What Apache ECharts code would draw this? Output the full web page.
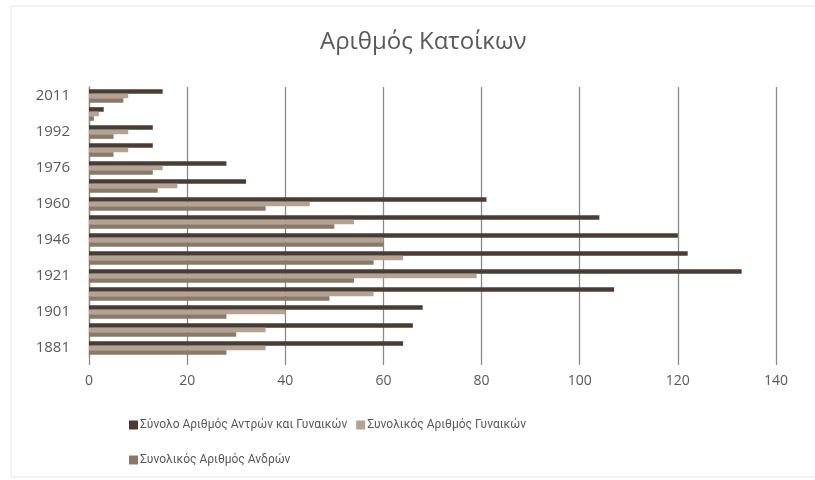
<!DOCTYPE html>
<html>
<head>
<meta charset="utf-8">
<script src="https://cdn.jsdelivr.net/npm/echarts@6/dist/echarts.min.js"></script>
<style>
html,body{margin:0;padding:0;background:#fff;}
#c{width:815px;height:480px;}
</style>
</head>
<body>
<div id="c"></div>
<script>
const title = 'Αριθμός Κατοίκων';
const categories = ['1881','1891','1901','1911','1921','1928','1946','1951','1960','1971','1976','1981','1992','2001','2011'];
const seriesNames = ['Σύνολο Αριθμός Αντρών και Γυναικών','Συνολικός Αριθμός Γυναικών','Συνολικός Αριθμός Ανδρών'];
const totalValues = [64, 66, 68, 107, 133, 122, 120, 104, 81, 32, 28, 13, 13, 3, 15];
const womenValues = [36, 36, 40, 58, 79, 64, 60, 54, 45, 18, 15, 8, 8, 2, 8];
const menValues   = [28, 30, 28, 49, 54, 58, 60, 50, 36, 14, 13, 5, 5, 1, 7];
const xTicks = [0, 20, 40, 60, 80, 100, 120, 140];

const colors = ['#4b3c33', '#b2a395', '#8a7969'];
const chart = echarts.init(document.getElementById('c'));
const txt = '#595959';
const font = '"Open Sans", "Noto Sans", sans-serif';
const legendFont = 'Roboto, "Open Sans", sans-serif';
chart.setOption({
  animation: false,
  textStyle: {fontFamily: font},
  title: {text: title, left: 315, top: 25,
    textStyle: {fontFamily: font, fontSize: 24, fontWeight: 'normal', color: txt}},
  graphic: [{type: 'rect', shape: {x: 11, y: 6, width: 830, height: 471},
    style: {fill: 'none', stroke: '#e6e6e6', lineWidth: 1}, silent: true}],
  legend: [
    {data: [seriesNames[0], seriesNames[1]], left: 124, top: 414, itemWidth: 9, itemHeight: 9, itemGap: 9,
     icon: 'rect', textStyle: {fontFamily: legendFont, fontSize: 12, color: txt, padding: [0,0,0,-3]}},
    {data: [seriesNames[2]], left: 124, top: 449, itemWidth: 9, itemHeight: 9,
     icon: 'rect', textStyle: {fontFamily: legendFont, fontSize: 12, color: txt, padding: [0,0,0,-3]}}
  ],
  grid: {left: 89, right: 39, top: 87, bottom: 123},
  xAxis: {type: 'value', min: xTicks[0], max: xTicks[xTicks.length-1], interval: 20,
    axisLine: {show: false},
    axisTick: {show: true, length: 8, lineStyle: {color: '#8a8a8a', width: 1.3}},
    splitLine: {show: true, lineStyle: {color: '#8a8a8a', width: 1.3}},
    axisLabel: {color: txt, fontSize: 14, margin: 17, fontFamily: font}},
  yAxis: {type: 'category', data: categories,
    axisLine: {show: true, lineStyle: {color: '#8a8a8a', width: 1.3}},
    axisTick: {show: false},
    axisLabel: {interval: 1, color: txt, fontSize: 15, margin: 19, fontFamily: font}},
  series: [
    {name: seriesNames[0], type: 'bar', data: totalValues, itemStyle: {color: colors[0]}, barGap: '0%', barCategoryGap: '24%'},
    {name: seriesNames[1], type: 'bar', data: womenValues, itemStyle: {color: colors[1]}},
    {name: seriesNames[2], type: 'bar', data: menValues, itemStyle: {color: colors[2]}}
  ]
});
</script>
</body>
</html>
